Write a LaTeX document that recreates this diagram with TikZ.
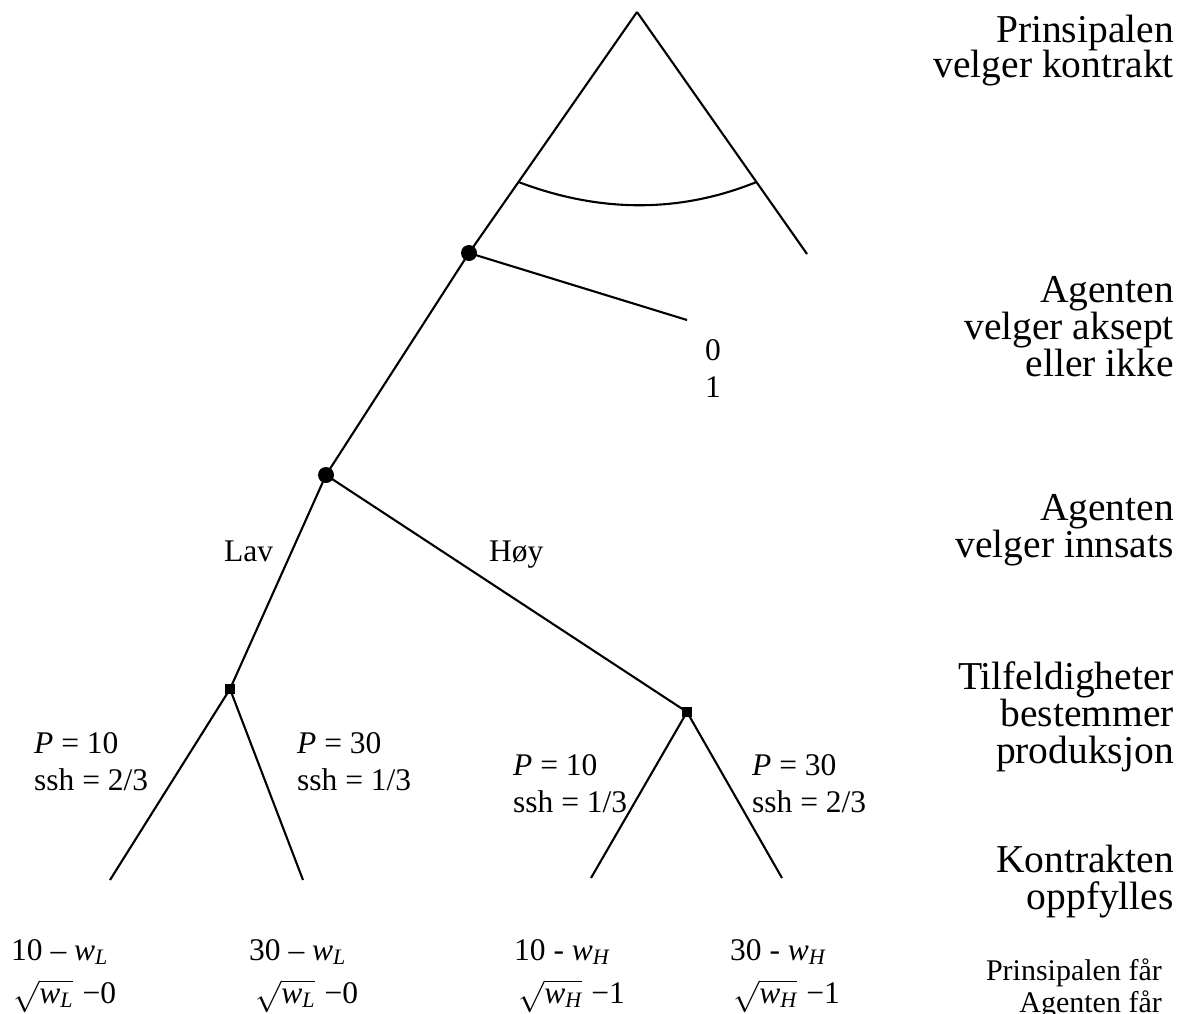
\documentclass[tikz,border=0pt]{standalone}
\usepackage{fix-cm}
\usepackage{amsmath}
\usepackage{fontspec}
\setmainfont{Liberation Serif}
\newcommand{\wsub}[1]{\textit{w}\textsubscript{\textit{#1}}}
\newcommand{\wroot}[1]{$\sqrt{\text{\itshape w}_{\text{\itshape #1}}}$}
\begin{document}
\begin{tikzpicture}[x=1pt,y=-1pt,
  branch/.style={line width=2.1pt},
  dec/.style={circle,fill=black,inner sep=0pt,minimum size=16pt},
  chance/.style={rectangle,fill=black,inner sep=0pt,minimum size=10.5pt},
  lbl/.style={inner sep=0pt,anchor=base west,font=\fontsize{31.5}{37}\selectfont},
  mid/.style={inner sep=0pt,anchor=base,font=\fontsize{31.5}{37}\selectfont},
  side/.style={inner sep=0pt,anchor=base east,font=\fontsize{39.5}{36}\selectfont},
  sides/.style={inner sep=0pt,anchor=base east,font=\fontsize{30}{33}\selectfont}]
\useasboundingbox (0,0) rectangle (1188,1014);

% tree points
\coordinate (A) at (637,12);
\coordinate (R) at (807,254);
\coordinate (X) at (687,320);
\coordinate (IL) at (518.5,182);
\coordinate (IR) at (756.5,182);
\coordinate (L1) at (110,880);
\coordinate (L2) at (303,880);
\coordinate (L3) at (591,878);
\coordinate (L4) at (782,878);
\node[dec] (N1) at (469,253) {};
\node[dec] (N2) at (326,475) {};
\node[chance] (N3) at (230,689) {};
\node[chance] (N4) at (687,712) {};

% branches
\draw[branch] (A) -- (N1.center) -- (N2.center) -- (N3.center);
\draw[branch] (A) -- (R);
\draw[branch] (N1.center) -- (X);
\draw[branch] (N2.center) -- (N4.center);
\draw[branch] (N3.center) -- (L1);
\draw[branch] (N3.center) -- (L2);
\draw[branch] (N4.center) -- (L3);
\draw[branch] (N4.center) -- (L4);
\draw[branch] (IL) .. controls (600,213) and (680,213) .. (IR);

% branch labels
\node[lbl] (lav) at (224,561) {Lav};
\node[lbl] (hoy) at (489,561) {Høy};
\node[mid] (z0) at (713,360) {0};
\node[mid] (z1) at (713,397) {1};

\node[lbl] (p1a) at (34,753) {\textit{P} = 10};
\node[lbl] (p1b) at (34,790) {ssh = 2/3};
\node[lbl] (p2a) at (297,753) {\textit{P} = 30};
\node[lbl] (p2b) at (297,790) {ssh = 1/3};
\node[lbl] (p3a) at (513,775) {\textit{P} = 10};
\node[lbl] (p3b) at (513,812) {ssh = 1/3};
\node[lbl] (p4a) at (752,775) {\textit{P} = 30};
\node[lbl] (p4b) at (752,812) {ssh = 2/3};

% payoffs
\node[lbl] (u1a) at (11,960) {10 – \wsub{L}};
\node[lbl] (u1b) at (13,1003) {\wroot{L}\hspace{0.3em}−0};
\node[lbl] (u2a) at (249,960) {30 – \wsub{L}};
\node[lbl] (u2b) at (255,1003) {\wroot{L}\hspace{0.3em}−0};
\node[lbl] (u3a) at (514,960) {10 - \wsub{H}};
\node[lbl] (u3b) at (518,1003) {\wroot{H}\hspace{0.3em}−1};
\node[lbl] (u4a) at (730,960) {30 - \wsub{H}};
\node[lbl] (u4b) at (733,1003) {\wroot{H}\hspace{0.3em}−1};

% stage descriptions
\node[side] (s1a) at (1174,43) {Prinsipalen};
\node[side] (s1b) at (1174,78) {velger kontrakt};
\node[side] (s2a) at (1174,302) {Agenten};
\node[side] (s2b) at (1174,339) {velger aksept};
\node[side] (s2c) at (1174,376) {eller ikke};
\node[side] (s3a) at (1174,520) {Agenten};
\node[side] (s3b) at (1174,557) {velger innsats};
\node[side] (s4a) at (1174,689) {Tilfeldigheter};
\node[side] (s4b) at (1174,726) {bestemmer};
\node[side] (s4c) at (1174,763) {produksjon};
\node[side] (s5a) at (1174,872) {Kontrakten};
\node[side] (s5b) at (1174,909) {oppfylles};
\node[sides] (s6a) at (1162,980) {Prinsipalen får};
\node[sides] (s6b) at (1162,1012) {Agenten får};
\end{tikzpicture}
\end{document}
